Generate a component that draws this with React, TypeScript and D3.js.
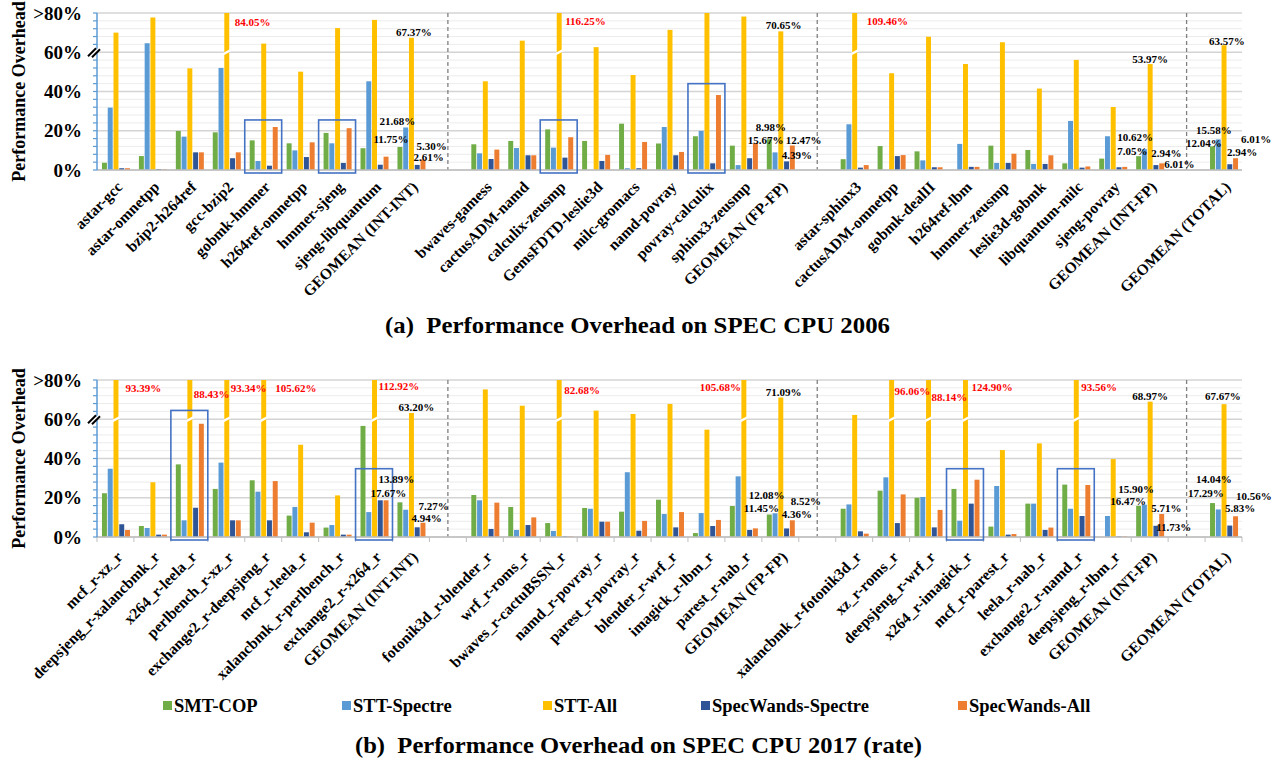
import * as d3 from "d3";
import React from "react";

const SERIES = ["SMT-COP", "STT-Spectre", "STT-All", "SpecWands-Spectre", "SpecWands-All"];
const COLORS = ["#70AD47", "#5B9BD5", "#FFC000", "#2F5597", "#ED7D31"];
const Y_TICKS = [0, 20, 40, 60, 80];
const Y_TICK_LABELS = ["0%", "20%", "40%", "60%", ">80%"];

// ---- SPEC CPU 2006 ----
const intInt06 = ["astar-gcc", "astar-omnetpp", "bzip2-h264ref", "gcc-bzip2", "gobmk-hmmer", "h264ref-omnetpp", "hmmer-sjeng", "sjeng-libquantum", "GEOMEAN (INT-INT)"];
const fpFp06 = ["bwaves-gamess", "cactusADM-namd", "calculix-zeusmp", "GemsFDTD-leslie3d", "milc-gromacs", "namd-povray", "povray-calculix", "sphinx3-zeusmp", "GEOMEAN (FP-FP)"];
const intFp06 = ["astar-sphinx3", "cactusADM-omnetpp", "gobmk-dealII", "h264ref-lbm", "hmmer-zeusmp", "leslie3d-gobmk", "libquantum-milc", "sjeng-povray", "GEOMEAN (INT-FP)"];
const total06 = ["GEOMEAN (TOTAL)"];

const smtCop06 = [3.7, 7.1, 19.9, 19.2, 15.1, 13.6, 18.9, 11.1, 11.75, 13.1, 14.8, 20.7, 14.8, 23.6, 13.5, 17.2, 12.4, 15.67, 5.5, 12.2, 9.5, 0, 12.4, 10.2, 3.4, 5.8, 7.05, 12.04];
const sttSpectre06 = [31.8, 64.6, 17.0, 52.0, 4.6, 10.0, 13.6, 45.2, 21.68, 8.5, 11.2, 11.4, 0, 0.9, 21.9, 19.9, 2.5, 8.98, 23.3, 0, 4.9, 13.3, 3.6, 3.1, 25.0, 17.2, 10.62, 15.58];
const sttAll06 = [70.0, 77.7, 51.8, 84.05, 64.4, 50.1, 72.3, 76.5, 67.37, 45.2, 65.9, 116.25, 62.6, 48.4, 71.4, 80, 78.2, 70.65, 109.46, 49.3, 67.9, 54.0, 65.1, 41.5, 56.1, 32.1, 53.97, 63.57];
const swSpectre06 = [0.9, 0.5, 9.0, 6.0, 2.2, 6.6, 3.6, 2.7, 2.61, 5.6, 7.5, 6.3, 4.6, 0.9, 7.5, 3.4, 6.0, 4.39, 1.2, 7.1, 1.4, 1.6, 3.6, 3.1, 1.2, 1.4, 2.5, 2.94];
const swAll06 = [0.9, 0.3, 9.0, 9.0, 21.9, 14.1, 21.3, 6.8, 5.3, 10.4, 7.5, 16.7, 7.7, 14.3, 9.2, 38.2, 13.6, 12.47, 2.5, 7.6, 1.4, 1.6, 8.3, 7.5, 1.8, 1.6, 3.4, 6.01];

// ---- SPEC CPU 2017 (rate) ----
const intInt17 = ["mcf_r-xz_r", "deepsjeng_r-xalancbmk_r", "x264_r-leela_r", "perlbench_r-xz_r", "exchange2_r-deepsjeng_r", "mcf_r-leela_r", "xalancbmk_r-perlbench_r", "exchange2_r-x264_r", "GEOMEAN (INT-INT)"];
const fpFp17 = ["fotonik3d_r-blender_r", "wrf_r-roms_r", "bwaves_r-cactuBSSN_r", "namd_r-povray_r", "parest_r-povray_r", "blender_r-wrf_r", "imagick_r-lbm_r", "parest_r-nab_r", "GEOMEAN (FP-FP)"];
const intFp17 = ["xalancbmk_r-fotonik3d_r", "xz_r-roms_r", "deepsjeng_r-wrf_r", "x264_r-imagick_r", "mcf_r-parest_r", "leela_r-nab_r", "exchange2_r-namd_r", "deepsjeng_r-lbm_r", "GEOMEAN (INT-FP)"];
const total17 = ["GEOMEAN (TOTAL)"];

const smtCop17 = [22.3, 5.6, 37.0, 24.5, 28.9, 10.9, 4.8, 56.6, 17.67, 21.4, 15.3, 7.1, 14.8, 12.9, 19.0, 2.0, 15.8, 11.45, 14.4, 23.6, 20.0, 24.5, 5.3, 17.0, 26.7, 0, 15.9, 17.29];
const sttSpectre17 = [34.8, 4.6, 8.5, 37.9, 23.1, 15.3, 6.1, 12.7, 13.89, 18.7, 3.6, 3.1, 14.4, 33.0, 11.7, 12.2, 30.9, 12.08, 16.6, 30.4, 20.4, 8.3, 26.0, 17.0, 14.4, 10.7, 16.47, 14.04];
const sttAll17 = [93.39, 27.9, 88.43, 93.34, 105.62, 47.0, 21.2, 112.92, 63.2, 75.2, 66.9, 82.68, 64.4, 62.7, 67.8, 54.7, 105.68, 71.09, 62.2, 96.06, 88.14, 124.9, 44.3, 47.7, 93.56, 39.7, 68.97, 67.67];
const swSpectre17 = [6.5, 1.2, 14.9, 8.5, 8.5, 2.4, 1.2, 18.7, 4.94, 4.1, 6.1, 0.3, 7.8, 3.2, 4.9, 5.6, 3.6, 4.36, 2.9, 7.1, 4.9, 17.0, 1.2, 3.6, 10.7, 0.3, 5.71, 5.83];
const swAll17 = [3.6, 1.2, 57.7, 8.5, 28.5, 7.3, 1.2, 18.7, 7.27, 17.5, 10.0, 0.3, 7.8, 8.2, 12.7, 8.7, 4.4, 8.52, 1.7, 21.7, 13.8, 29.2, 1.5, 4.8, 26.5, 0.3, 11.73, 10.56];

// label placement: [category, text, x offset from slot centre (px), y level (%), red]
type Note = [string, string, number, number, boolean?];
const notes06: Note[] = [
  ["gcc-bzip2", "84.05%", 8.5, 75.4, true],
  ["calculix-zeusmp", "116.25%", 6.5, 75.9, true],
  ["astar-sphinx3", "109.46%", 12.5, 75.9, true],
  ["GEOMEAN (INT-INT)", "67.37%", -15, 70.3],
  ["GEOMEAN (INT-INT)", "21.68%", -31.5, 25.0],
  ["GEOMEAN (INT-INT)", "11.75%", -37.5, 15.8],
  ["GEOMEAN (INT-INT)", "5.30%", 5.5, 12.4],
  ["GEOMEAN (INT-INT)", "2.61%", 2.5, 6.8],
  ["GEOMEAN (FP-FP)", "70.65%", -14.5, 73.9],
  ["GEOMEAN (FP-FP)", "8.98%", -24.5, 21.9],
  ["GEOMEAN (FP-FP)", "15.67%", -32.5, 15.3],
  ["GEOMEAN (FP-FP)", "12.47%", 5.5, 15.3],
  ["GEOMEAN (FP-FP)", "4.39%", 1.5, 7.6],
  ["GEOMEAN (INT-FP)", "53.97%", -17.5, 56.6],
  ["GEOMEAN (INT-FP)", "10.62%", -32.5, 16.8],
  ["GEOMEAN (INT-FP)", "7.05%", -32.5, 9.7],
  ["GEOMEAN (INT-FP)", "2.94%", 1.5, 8.4],
  ["GEOMEAN (INT-FP)", "6.01%", 14.5, 2.8],
  ["GEOMEAN (TOTAL)", "63.57%", -14.5, 65.7],
  ["GEOMEAN (TOTAL)", "15.58%", -27.5, 20.4],
  ["GEOMEAN (TOTAL)", "12.04%", -37.5, 13.8],
  ["GEOMEAN (TOTAL)", "6.01%", 17.5, 15.8],
  ["GEOMEAN (TOTAL)", "2.94%", 3.5, 9.2],
];
const notes17: Note[] = [
  ["mcf_r-xz_r", "93.39%", 10, 75.9, true],
  ["x264_r-leela_r", "88.43%", 4.5, 72.9, true],
  ["perlbench_r-xz_r", "93.34%", 4.5, 75.9, true],
  ["exchange2_r-deepsjeng_r", "105.62%", 12, 75.9, true],
  ["exchange2_r-x264_r", "112.92%", 4.5, 76.9, true],
  ["bwaves_r-cactuBSSN_r", "82.68%", 5.5, 74.9, true],
  ["parest_r-nab_r", "105.68%", -43.5, 76.4, true],
  ["xz_r-roms_r", "96.06%", 3.5, 74.4, true],
  ["deepsjeng_r-wrf_r", "88.14%", 3.5, 71.3, true],
  ["x264_r-imagick_r", "124.90%", 6.5, 76.4, true],
  ["exchange2_r-namd_r", "93.56%", 5.5, 76.4, true],
  ["GEOMEAN (INT-INT)", "63.20%", -12.5, 66.4],
  ["GEOMEAN (INT-INT)", "13.89%", -32.5, 29.6],
  ["GEOMEAN (INT-INT)", "17.67%", -40.5, 22.4],
  ["GEOMEAN (INT-INT)", "7.27%", 7.5, 15.6],
  ["GEOMEAN (INT-INT)", "4.94%", 0.5, 9.4],
  ["GEOMEAN (FP-FP)", "71.09%", -14.5, 73.9],
  ["GEOMEAN (FP-FP)", "12.08%", -31.5, 21.4],
  ["GEOMEAN (FP-FP)", "11.45%", -36.5, 14.8],
  ["GEOMEAN (FP-FP)", "4.36%", 1.5, 11.7],
  ["GEOMEAN (FP-FP)", "8.52%", 10.5, 18.3],
  ["GEOMEAN (INT-FP)", "68.97%", -17.5, 72.0],
  ["GEOMEAN (INT-FP)", "15.90%", -31.5, 24.5],
  ["GEOMEAN (INT-FP)", "16.47%", -39.5, 18.5],
  ["GEOMEAN (INT-FP)", "5.71%", 1.5, 14.8],
  ["GEOMEAN (INT-FP)", "11.73%", 6.5, 5.1],
  ["GEOMEAN (TOTAL)", "67.67%", -18.5, 72.0],
  ["GEOMEAN (TOTAL)", "14.04%", -27.5, 29.6],
  ["GEOMEAN (TOTAL)", "17.29%", -35.5, 22.4],
  ["GEOMEAN (TOTAL)", "10.56%", 12.5, 20.9],
  ["GEOMEAN (TOTAL)", "5.83%", 1.5, 14.8],
];

// highlighted groups: [category, box top (%)]
const boxes06: [string, number][] = [["gobmk-hmmer", 25.5], ["hmmer-sjeng", 25.5], ["calculix-zeusmp", 25.5], ["povray-calculix", 44]];
const boxes17: [string, number][] = [["x264_r-leela_r", 64.5], ["exchange2_r-x264_r", 34.8], ["x264_r-imagick_r", 34.8], ["exchange2_r-namd_r", 34.8]];

const FONT = "Liberation Serif, Times New Roman, serif";
const X0 = 97;
const X1 = 1242;
const LEGEND_X = [163, 342, 543, 701, 958];

interface PanelProps {
  top: number;
  groups: string[][];
  values: number[][];
  notes: Note[];
  boxes: [string, number][];
  ticks: boolean;
}

function Panel({ top, groups, values, notes, boxes, ticks }: PanelProps) {
  const y0 = top + 157;
  const slots: string[] = [];
  groups.forEach((g, i) => {
    slots.push(...g);
    if (i < groups.length - 1) slots.push(`__gap${i}`);
  });
  const cats = groups.flat();
  const x = d3.scaleBand<string>().domain(slots).range([X0, X1]);
  const bw = x.bandwidth();
  const cx = (c: string) => (x(c) as number) + bw / 2;
  const y = d3.scaleLinear().domain([0, 80]).range([y0, top]);
  const inner = d3.scaleBand<number>().domain(d3.range(5)).range([-13.5, 14.5]).paddingInner(0.14);
  const ibw = inner.bandwidth();
  const grid = d3.range(0, 81, 4);
  const y60 = y(60);

  return (
    <g>
      {grid.map((v) => (
        <line key={"g" + v} x1={X0} x2={X1} y1={y(v)} y2={y(v)}
          stroke={v % 20 === 0 ? "#d4d4d4" : "#ececec"} strokeWidth={v % 20 === 0 ? 1.4 : 1} />
      ))}
      {slots.filter((s) => s.startsWith("__gap")).map((s) => (
        <line key={s} x1={cx(s)} x2={cx(s)} y1={top} y2={y0} stroke="#808080" strokeWidth={1.3} strokeDasharray="4 3" />
      ))}
      {values.map((arr, si) =>
        arr.map((v, ci) => {
          const bx = cx(cats[ci]) + (inner(si) as number);
          const vv = Math.min(v, 80);
          return (
            <g key={`b${si}-${ci}`}>
              <rect x={bx} y={y(vv)} width={ibw} height={y0 - y(vv)} fill={COLORS[si]} />
              {v > 80 && (
                <line x1={bx - 3} x2={bx + ibw + 3} y1={y60 + 3} y2={y60 - 3} stroke="#fff" strokeWidth={2.5} />
              )}
            </g>
          );
        })
      )}
      <line x1={X0} x2={X1} y1={y0} y2={y0} stroke="#bfbfbf" strokeWidth={1.3} />
      {ticks && d3.range(slots.length + 1).map((i) => (
        <line key={"t" + i} x1={X0 + i * bw} x2={X0 + i * bw} y1={y0} y2={y0 + 5} stroke="#bfbfbf" />
      ))}
      <line x1={X0} x2={X0} y1={top} y2={y0} stroke="#5B9BD5" strokeWidth={1.5} />
      {grid.map((v) => (
        <line key={"yt" + v} x1={X0 - 4} x2={X0} y1={y(v)} y2={y(v)} stroke="#5B9BD5" strokeWidth={1.2} />
      ))}
      {/* axis break mark */}
      <polygon points={`${X0 - 8},${y60 + 4} ${X0 + 2},${y60 - 5} ${X0 + 4},${y60 - 3} ${X0 - 6},${y60 + 6}`} fill="#fff" />
      <line x1={X0 - 9} x2={X0 - 1} y1={y60 + 4} y2={y60 - 4} stroke="#000" strokeWidth={2} />
      <line x1={X0 - 5} x2={X0 + 3} y1={y60 + 5} y2={y60 - 3} stroke="#000" strokeWidth={2} />
      {Y_TICKS.map((v, i) => (
        <text key={"yl" + v} x={82} y={y(v)} dy="0.35em" textAnchor="end" fontSize={19} fontWeight="bold">
          {Y_TICK_LABELS[i]}
        </text>
      ))}
      <text transform={`translate(25,${(top + y0) / 2}) rotate(-90)`} textAnchor="middle" fontSize={18} fontWeight="bold">
        Performance Overhead
      </text>
      {cats.map((c) => (
        <text key={"xl" + c} transform={`translate(${cx(c) + 8},${y0 + (ticks ? 21 : 18)}) rotate(-45)`}
          textAnchor="end" fontSize={15.5} fontWeight="bold">
          {c}
        </text>
      ))}
      {boxes.map(([c, v]) => (
        <rect key={"bx" + c} x={x(c)} y={y(v)} width={bw} height={y0 + 3 - y(v)} fill="none" stroke="#4472C4" strokeWidth={1.6} />
      ))}
      {notes.map(([c, t, dx, v, red], i) => (
        <text key={"n" + i} x={cx(c) + dx} y={y(v)} dy="0.35em" fontSize={11} fontWeight="bold"
          fill={red ? "#FF0000" : "#000"}>
          {t}
        </text>
      ))}
    </g>
  );
}

export default function App() {
  return (
    <svg width={1276} height={759} style={{ position: "absolute", left: 0, top: 0, background: "#fff", fontFamily: FONT }}>
      <rect width={1276} height={759} fill="#fff" />
      <Panel top={13} groups={[intInt06, fpFp06, intFp06, total06]}
        values={[smtCop06, sttSpectre06, sttAll06, swSpectre06, swAll06]}
        notes={notes06} boxes={boxes06} ticks={false} />
      <text x={385} y={333} fontSize={23} fontWeight="bold" textLength={505} lengthAdjust="spacingAndGlyphs"
        style={{ whiteSpace: "pre" }}>
        (a)  Performance Overhead on SPEC CPU 2006
      </text>
      <Panel top={380} groups={[intInt17, fpFp17, intFp17, total17]}
        values={[smtCop17, sttSpectre17, sttAll17, swSpectre17, swAll17]}
        notes={notes17} boxes={boxes17} ticks={true} />
      {SERIES.map((s, i) => (
        <g key={s}>
          <rect x={LEGEND_X[i]} y={701} width={9} height={9} fill={COLORS[i]} />
          <text x={LEGEND_X[i] + 11} y={712} fontSize={18.5} fontWeight="bold">{s}</text>
        </g>
      ))}
      <text x={355} y={753} fontSize={23} fontWeight="bold" textLength={567} lengthAdjust="spacingAndGlyphs"
        style={{ whiteSpace: "pre" }}>
        (b)  Performance Overhead on SPEC CPU 2017 (rate)
      </text>
    </svg>
  );
}
